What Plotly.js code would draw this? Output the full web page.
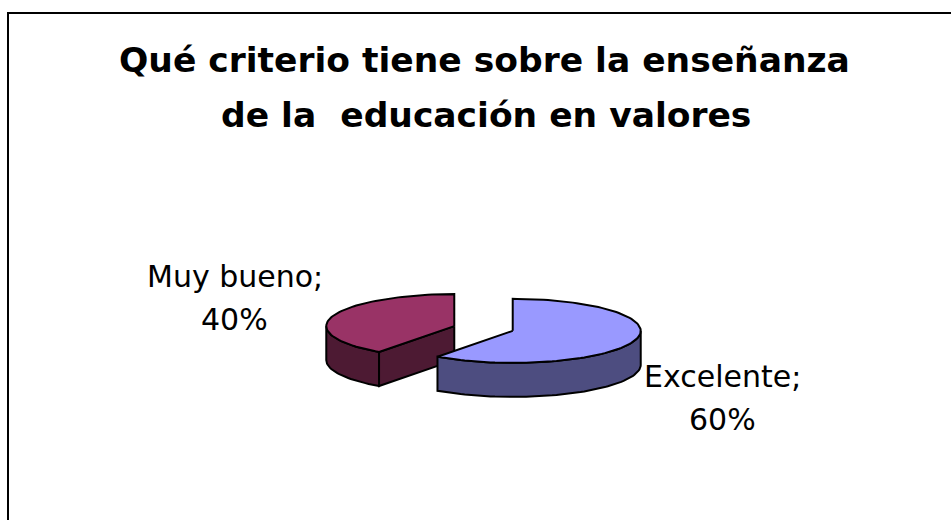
<!DOCTYPE html>
<html>
<head>
<meta charset="utf-8">
<script src="https://cdn.plot.ly/plotly-3.0.1.min.js"></script>
<style>html,body{margin:0;padding:0;background:#fff;}#chart{width:951px;height:520px;}</style>
</head>
<body>
<div id="chart"></div>
<script>
// ---- data ----
const categories = ["Excelente", "Muy bueno"];
const percentages = [60, 40];
const titleLines = ["Qué criterio tiene sobre la enseñanza", "de la\u00a0 educación en valores"];

// ---- style ----
const topColors = ["#9999FF", "#993366"];
const sideColors = ["#4D4D80", "#4D1A33"];
const pieCenter = {x: 483.5, y: 328.5};
const rx = 128, ry = 32, depth = 34, pull = 0.24;

const total = percentages.reduce((a, b) => a + b, 0);
const rad = d => d * Math.PI / 180;
function pt(c, th, dy) { return [c.x + rx * Math.sin(rad(th)), c.y - ry * Math.cos(rad(th)) + (dy || 0)]; }
function arc(c, a, b, dy) {
  const out = []; const n = Math.max(2, Math.ceil(Math.abs(b - a) / 2));
  for (let i = 0; i <= n; i++) out.push(pt(c, a + (b - a) * i / n, dy));
  return out;
}
function poly(points, fill) {
  const xs = points.map(p => p[0]), ys = points.map(p => p[1]);
  xs.push(xs[0]); ys.push(ys[0]);
  return {type: "scatter", mode: "lines", x: xs, y: ys, fill: "toself", fillcolor: fill,
          line: {color: "#000", width: 2}, hoverinfo: "skip", showlegend: false};
}

// build slices
let start = 0;
const slices = percentages.map((v, i) => {
  const a = start, b = start + 360 * v / total; start = b;
  const mid = (a + b) / 2;
  const c = {x: pieCenter.x + pull * rx * Math.sin(rad(mid)), y: pieCenter.y - pull * ry * Math.cos(rad(mid))};
  return {i, a, b, c};
});

const traces = [];
// draw back slice (Muy bueno) first, then front one
[1, 0].forEach(i => {
  const s = slices[i];
  const wa = Math.max(s.a, 90), wb = Math.min(s.b, 270);
  if (wb > wa) {
    const topArc = arc(s.c, wa, wb, 0);
    const botArc = arc(s.c, wb, wa, depth);
    traces.push(poly(topArc.concat(botArc), sideColors[i]));
  }
  const faceDir = s.a - 90;
  if (Math.cos(rad(faceDir)) < 0 && s.a > 0) {
    const e = pt(s.c, s.a, 0), e2 = pt(s.c, s.a, depth);
    traces.push(poly([[s.c.x, s.c.y], e, e2, [s.c.x, s.c.y + depth]], sideColors[i]));
  }
  traces.push(poly([[s.c.x, s.c.y]].concat(arc(s.c, s.a, s.b, 0)), topColors[i]));
});

const font = "DejaVu Sans, Arial, sans-serif";
const annotations = [
  {text: "<b>" + titleLines[0] + "</b>", x: 484, y: 60, font: {size: 34.5}},
  {text: "<b>" + titleLines[1] + "</b>", x: 486, y: 115, font: {size: 34.5}},
  {text: categories[1] + ";", x: 234.5, y: 276, font: {size: 30}},
  {text: percentages[1] + "%", x: 234, y: 319, font: {size: 30}},
  {text: categories[0] + ";", x: 722, y: 376, font: {size: 30}},
  {text: percentages[0] + "%", x: 722, y: 419, font: {size: 30}}
].map(a => Object.assign({xref: "x", yref: "y", xanchor: "center", yanchor: "middle", showarrow: false},
  a, {font: Object.assign({family: font, color: "#000"}, a.font)}));

const layout = {
  width: 951, height: 520,
  margin: {l: 0, r: 0, t: 0, b: 0, pad: 0},
  paper_bgcolor: "#fff", plot_bgcolor: "#fff",
  xaxis: {range: [0, 951], visible: false, fixedrange: true},
  yaxis: {range: [520, 0], visible: false, fixedrange: true},
  showlegend: false,
  annotations: annotations,
  shapes: [{type: "rect", xref: "x", yref: "y", x0: 8, y0: 13, x1: 1000, y1: 600,
            line: {color: "#000", width: 2}, fillcolor: "rgba(0,0,0,0)", layer: "below"}]
};

Plotly.newPlot("chart", traces, layout, {staticPlot: true, displayModeBar: false});
</script>
</body>
</html>
